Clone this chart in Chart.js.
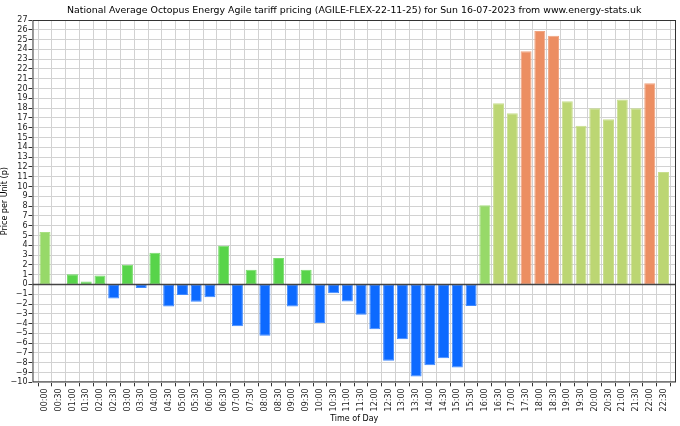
<!DOCTYPE html>
<html>
<head>
<meta charset="utf-8">
<script src="https://cdn.jsdelivr.net/npm/chart.js@4.4.0/dist/chart.umd.min.js"></script>
<style>
  body { margin: 0; background: #fff; }
  #chart { display: block; }
</style>
</head>
<body>
<canvas id="chart" width="680" height="426"></canvas>
<script>
// Horários (meia hora) e preços em p/kWh
var times = ["00:00","00:30","01:00","01:30","02:00","02:30","03:00","03:30","04:00","04:30",
  "05:00","05:30","06:00","06:30","07:00","07:30","08:00","08:30","09:00","09:30",
  "10:00","10:30","11:00","11:30","12:00","12:30","13:00","13:30","14:00","14:30",
  "15:00","15:30","16:00","16:30","17:00","17:30","18:00","18:30","19:00","19:30",
  "20:00","20:30","21:00","21:30","22:00","22:30"];

var prices = [5.35, 0.05, 1.03, 0.3, 0.92, -1.43, 2.01, -0.37, 3.24, -2.25,
  -1.09, -1.77, -1.3, 3.95, -4.26, 1.5, -5.25, 2.69, -2.25, 1.5,
  -3.95, -0.89, -1.74, -3.1, -4.57, -7.8, -5.59, -9.4, -8.25, -7.53,
  -8.49, -2.21, 8.08, 18.5, 17.48, 23.8, 25.87, 25.4, 18.7, 16.19,
  17.99, 16.87, 18.88, 18.0, 20.55, 11.48];

// Faixa de preço de cada barra (define a cor)
var bands = ["light","green","green","green","green","blue","green","blue","green","blue",
  "blue","blue","blue","green","blue","green","blue","green","blue","green",
  "blue","blue","blue","blue","blue","blue","blue","blue","blue","blue",
  "blue","blue","light","olive","olive","orange","orange","orange","olive","olive",
  "olive","olive","olive","olive","orange","olive"];

var yMin = -10, yMax = 27;

var titleText = "National Average Octopus Energy Agile tariff pricing (AGILE-FLEX-22-11-25) for Sun 16-07-2023 from www.energy-stats.uk";

var bandColors = {
  light: "#97d969",
  green: "#58d44a",
  blue: "#0d6aff",
  olive: "#bcd673",
  orange: "#ec8e62"
};
var bandEdges = {
  light: "#a9e082",
  green: "#78dc6c",
  blue: "#3f89ff",
  olive: "#c9de8e",
  orange: "#f0a480"
};

var points = prices.map(function (v, i) { return { x: i, y: v }; });

// Moldura, linha do zero e título centrado na área do gráfico
var frame = {
  id: "frame",
  afterDatasetsDraw: function (c) {
    var a = c.chartArea, ctx = c.ctx;
    var y0 = c.scales.y.getPixelForValue(0);
    ctx.save();
    ctx.strokeStyle = "#444";
    ctx.lineWidth = 1.5;
    ctx.beginPath();
    ctx.moveTo(a.left, y0);
    ctx.lineTo(a.right, y0);
    ctx.stroke();
    ctx.lineWidth = 1;
    ctx.strokeStyle = "#333";
    ctx.strokeRect(a.left + 0.5, a.top + 0.5, a.right - a.left - 1, a.bottom - a.top - 1);

    ctx.fillStyle = "#000";
    ctx.font = "9.4px 'DejaVu Sans', sans-serif";
    ctx.textAlign = "center";
    ctx.textBaseline = "middle";
    ctx.fillText(titleText, (a.left + a.right) / 2, a.top - 9);
    ctx.restore();
  }
};

Chart.defaults.font.family = "'DejaVu Sans', sans-serif";
Chart.defaults.color = "#222";

var ctx = document.getElementById("chart").getContext("2d");
var chart = new Chart(ctx, {
  type: "bar",
  data: {
    datasets: [{
      data: points,
      backgroundColor: bands.map(function (b) { return bandColors[b]; }),
      borderColor: bands.map(function (b) { return bandEdges[b]; }),
      borderWidth: 1,
      borderSkipped: false,
      barPercentage: 0.8,
      categoryPercentage: 1.0
    }]
  },
  options: {
    responsive: false,
    devicePixelRatio: 1,
    animation: false,
    layout: { padding: { left: 0, right: 4, top: 20, bottom: 2 } },
    plugins: {
      legend: { display: false },
      tooltip: { enabled: false },
      title: { display: false }
    },
    scales: {
      x: {
        type: "linear",
        min: -0.4,
        max: 45.4,
        afterBuildTicks: function (s) {
          s.ticks = times.map(function (t, i) { return { value: i }; });
        },
        ticks: {
          autoSkip: false,
          maxRotation: 90,
          minRotation: 90,
          font: { size: 8 },
          color: "#222",
          padding: 2,
          callback: function (v) { return times[v]; }
        },
        grid: { color: "#d2d2d2", tickColor: "#333", tickLength: 4 },
        border: { display: false },
        title: { display: true, text: "Time of Day", font: { size: 8 }, color: "#000", padding: { top: 1, bottom: 0 } }
      },
      y: {
        min: yMin,
        max: yMax,
        ticks: {
          stepSize: 1,
          autoSkip: false,
          font: { size: 8 },
          color: "#222",
          padding: 1,
          callback: function (v) { return v < 0 ? "\u2212" + Math.abs(v) : v; }
        },
        grid: { color: "#d2d2d2", tickColor: "#333", tickLength: 4 },
        border: { display: false },
        title: { display: true, text: "Price per Unit (p)", font: { size: 8 }, color: "#000", padding: { top: 0, bottom: 0 } }
      }
    }
  },
  plugins: [frame]
});
</script>
</body>
</html>
